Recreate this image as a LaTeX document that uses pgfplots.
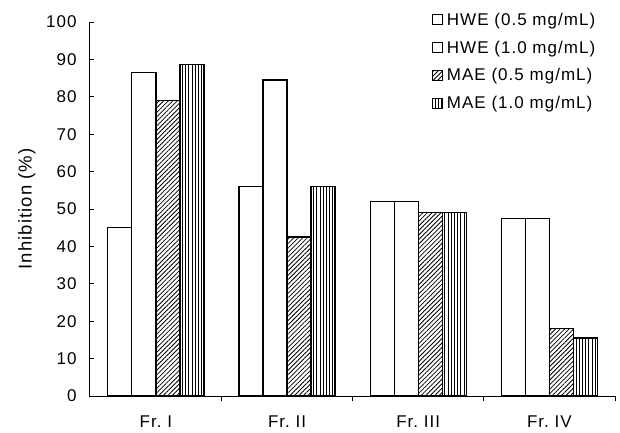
\documentclass[border=0pt]{standalone}
\usepackage{pgfplots}
\pgfplotsset{compat=1.18}
\usepackage{fontspec}
\setmainfont{Liberation Sans}[LetterSpace=6]
\usetikzlibrary{patterns.meta}
\begin{document}
\begin{tikzpicture}
\path[use as bounding box] (0,0) rectangle (620pt,432pt);
\begin{axis}[
  at={(89pt,36pt)}, anchor=south west,
  scale only axis, width=526pt, height=374pt,
  axis lines=left, axis line style={-, line width=0.9pt},
  xmin=-0.51, xmax=3.5, ymin=0, ymax=100,
  xtick={0,1,2,3}, xticklabels={Fr.\ I, Fr.\ II, Fr.\ III, Fr.\ IV},
  major x tick style={draw=none},
  minor xtick={0.5,1.5,2.5,3.5},
  ytick={0,10,...,100},
  tick align=inside,
  major tick length=5pt, minor tick length=5pt,
  tick style={line width=0.8pt, black},
  ylabel={Inhibition (\%)},
  ylabel style={at={(axis description cs:-0.118,0.5)}, anchor=center, font=\fontsize{18.5}{21}\selectfont},
  ybar=0pt, bar width=24pt,
  /pgf/number format/assume math mode=true,
  tick label style={font=\fontsize{17}{20}\selectfont},
  yticklabel style={xshift=-9pt},
  xticklabel style={yshift=-11pt},
  legend style={draw=none, fill=none, at={(0.652,1.03)}, anchor=north west,
    font=\fontsize{17}{19}\selectfont, row sep=10pt, inner sep=0pt,
    nodes={inner xsep=4pt}},
  legend cell align=left,
  legend image code/.code={\draw[#1, line width=0.8pt] (0pt,-5pt) rectangle (10pt,5pt);},
]
\addplot[draw=black, fill=white, line width=1.2pt] coordinates {(0,45) (1,56) (2,52) (3,47.5)};
\addplot[draw=black, fill=white, line width=1.2pt] coordinates {(0,86.5) (1,84.5) (2,52) (3,47.5)};
\addplot[draw=black, line width=1.2pt, pattern={Lines[angle=45, distance=3.2pt, line width=0.8pt]}] coordinates {(0,79) (1,42.5) (2,49) (3,18)};
\addplot[draw=black, line width=1.2pt, pattern={Lines[angle=90, distance=3.2pt, line width=0.9pt]}] coordinates {(0,88.7) (1,56) (2,49) (3,15.5)};
\legend{HWE (0.5 mg/mL), HWE (1.0 mg/mL), MAE (0.5 mg/mL), MAE (1.0 mg/mL)}
\end{axis}
\end{tikzpicture}
\end{document}
